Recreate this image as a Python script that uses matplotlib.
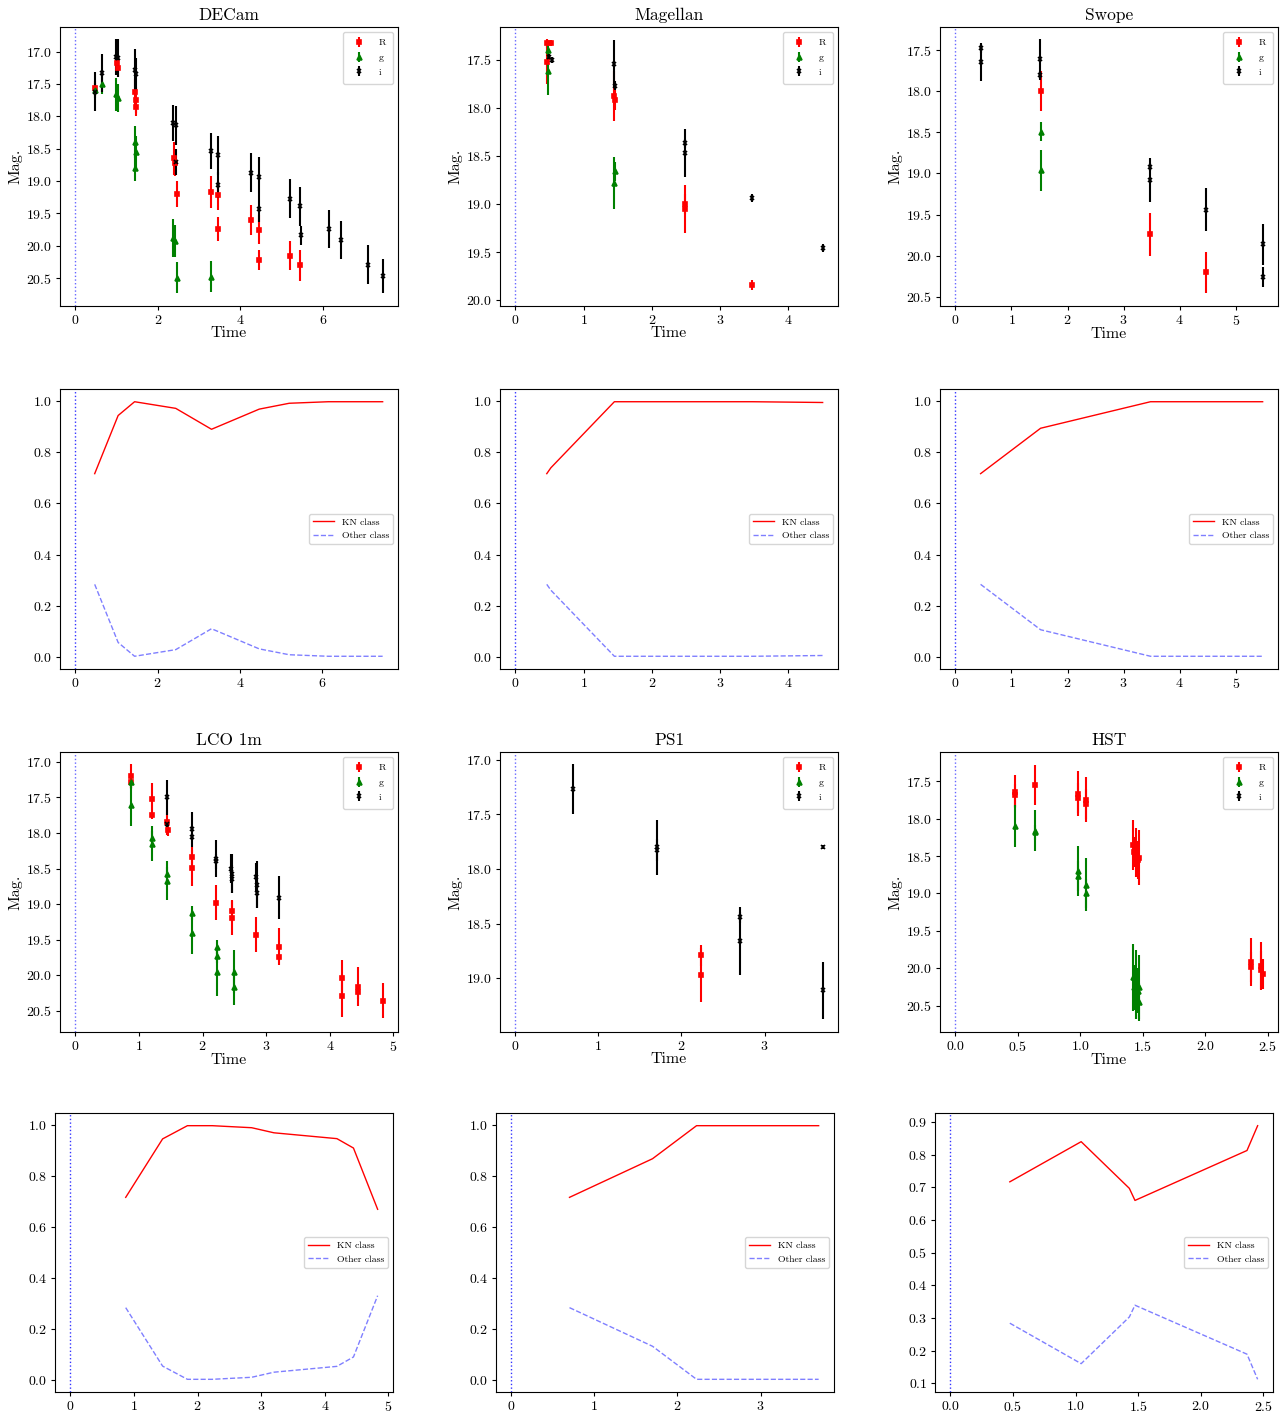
import numpy as np
import matplotlib
matplotlib.use("Agg")
import matplotlib.pyplot as plt
from matplotlib.ticker import MultipleLocator

plt.rcParams["font.family"] = "serif"
plt.rcParams["font.serif"] = ["cmr10"]
plt.rcParams["mathtext.fontset"] = "cm"
plt.rcParams["axes.formatter.use_mathtext"] = True
plt.rcParams["xtick.major.size"] = 3
plt.rcParams["ytick.major.size"] = 3
plt.rcParams["xtick.major.pad"] = 2.5
plt.rcParams["ytick.major.pad"] = 2.5

# light curves: (time, mag, err) per band
decam_R = [(0.47, 17.57, 0.12), (1.00, 17.18, 0.15), (1.04, 17.25, 0.15),
           (1.45, 17.62, 0.20), (1.46, 17.75, 0.20), (1.47, 17.85, 0.15),
           (2.38, 18.65, 0.25), (2.42, 18.72, 0.20), (2.46, 19.20, 0.20),
           (3.30, 19.17, 0.25), (3.46, 19.22, 0.22), (3.46, 19.74, 0.18),
           (4.27, 19.60, 0.23), (4.46, 19.75, 0.22), (4.46, 20.22, 0.15),
           (5.20, 20.15, 0.22), (5.44, 20.30, 0.24)]
decam_g = [(0.47, 17.60, 0.12), (0.65, 17.50, 0.15), (0.98, 17.66, 0.25),
           (1.04, 17.72, 0.22), (1.44, 18.40, 0.25), (1.46, 18.55, 0.25),
           (1.45, 18.80, 0.20), (2.37, 19.88, 0.30), (2.42, 19.93, 0.25),
           (2.46, 20.49, 0.24), (3.30, 20.48, 0.24)]
decam_i = [(0.47, 17.62, 0.30), (0.65, 17.33, 0.30), (0.98, 17.08, 0.28),
           (1.04, 17.10, 0.30), (1.45, 17.28, 0.32), (1.46, 17.35, 0.25),
           (2.37, 18.10, 0.28), (2.44, 18.14, 0.30), (2.45, 18.70, 0.20),
           (3.30, 18.54, 0.28), (3.45, 18.60, 0.30), (3.46, 19.06, 0.20),
           (4.27, 18.87, 0.30), (4.46, 18.93, 0.30), (4.46, 19.43, 0.20),
           (5.20, 19.27, 0.30), (5.45, 19.39, 0.30), (5.46, 19.84, 0.15),
           (6.15, 19.74, 0.30), (6.45, 19.91, 0.30), (7.10, 20.29, 0.30),
           (7.45, 20.47, 0.26)]

magellan_R = [(0.47, 17.52, 0.23), (0.47, 17.33, 0.05), (0.52, 17.33, 0.03),
              (1.45, 17.88, 0.26), (1.46, 17.92, 0.10), (2.48, 19.05, 0.25),
              (2.49, 19.00, 0.10), (3.47, 19.84, 0.05)]
magellan_g = [(0.48, 17.62, 0.25), (0.48, 17.40, 0.05), (1.45, 18.78, 0.27),
              (1.46, 18.66, 0.10)]
magellan_i = [(0.49, 17.47, 0.03), (0.53, 17.50, 0.03), (1.45, 17.54, 0.24),
              (1.46, 17.77, 0.05), (2.48, 18.47, 0.25), (2.48, 18.37, 0.05),
              (3.47, 18.94, 0.04), (4.50, 19.46, 0.04)]

swope_R = [(1.52, 18.00, 0.24), (3.48, 19.74, 0.26), (4.47, 20.20, 0.25)]
swope_g = [(1.52, 18.49, 0.12), (1.52, 18.96, 0.25)]
swope_i = [(0.45, 17.48, 0.05), (0.45, 17.65, 0.23), (1.51, 17.61, 0.25),
           (1.51, 17.80, 0.05), (3.48, 18.92, 0.05), (3.48, 19.08, 0.27),
           (4.47, 19.44, 0.26), (5.48, 19.86, 0.25), (5.48, 20.26, 0.12)]

lco_R = [(0.87, 17.20, 0.17), (0.87, 17.28, 0.08), (1.21, 17.52, 0.23),
         (1.21, 17.75, 0.05), (1.44, 17.85, 0.18), (1.45, 17.96, 0.08),
         (1.83, 18.34, 0.15), (1.83, 18.49, 0.25), (2.21, 18.98, 0.25),
         (2.46, 19.10, 0.15), (2.46, 19.19, 0.25), (2.84, 19.43, 0.25),
         (3.20, 19.60, 0.26), (3.20, 19.75, 0.05), (4.19, 20.04, 0.25),
         (4.19, 20.29, 0.30), (4.45, 20.16, 0.28), (4.45, 20.24, 0.10),
         (4.83, 20.36, 0.25)]
lco_g = [(0.87, 17.28, 0.10), (0.87, 17.60, 0.30), (1.21, 18.07, 0.10),
         (1.21, 18.15, 0.25), (1.44, 18.58, 0.10), (1.44, 18.67, 0.27),
         (1.83, 19.13, 0.10), (1.83, 19.40, 0.30), (2.22, 19.60, 0.10),
         (2.22, 19.73, 0.10), (2.22, 19.95, 0.35), (2.49, 19.95, 0.30),
         (2.49, 20.17, 0.25)]
lco_i = [(1.44, 17.50, 0.25), (1.44, 17.87, 0.05), (1.83, 17.95, 0.25),
         (1.83, 18.05, 0.05), (2.21, 18.36, 0.26), (2.21, 18.40, 0.10),
         (2.45, 18.50, 0.20), (2.46, 18.57, 0.28), (2.47, 18.65, 0.20),
         (2.84, 18.62, 0.20), (2.85, 18.73, 0.33), (2.86, 18.85, 0.20),
         (3.20, 18.91, 0.30)]

ps1_R = [(2.23, 18.97, 0.25), (2.23, 18.79, 0.10)]
ps1_g = []
ps1_i = [(0.70, 17.27, 0.23), (1.70, 17.80, 0.25), (1.70, 17.83, 0.10),
         (2.70, 18.44, 0.05), (2.70, 18.66, 0.31), (3.70, 17.80, 0.02),
         (3.70, 19.11, 0.26)]

hst_R = [(0.475, 17.64, 0.22), (0.475, 17.69, 0.15), (0.64, 17.55, 0.27),
         (0.98, 17.67, 0.30), (0.98, 17.72, 0.20), (1.045, 17.75, 0.30),
         (1.045, 17.80, 0.20), (1.42, 18.35, 0.33), (1.43, 18.45, 0.20),
         (1.45, 18.45, 0.33), (1.46, 18.55, 0.25), (1.47, 18.52, 0.37),
         (2.37, 19.92, 0.32), (2.37, 19.98, 0.20), (2.45, 19.97, 0.32),
         (2.45, 20.02, 0.25), (2.46, 20.07, 0.20)]
hst_g = [(0.475, 18.10, 0.28), (0.64, 18.16, 0.27), (0.64, 18.18, 0.10),
         (0.98, 18.70, 0.33), (0.98, 18.76, 0.20), (1.045, 18.88, 0.36),
         (1.045, 19.00, 0.20), (1.42, 20.12, 0.45), (1.43, 20.25, 0.30),
         (1.45, 20.22, 0.46), (1.46, 20.30, 0.30), (1.47, 20.25, 0.43),
         (1.47, 20.45, 0.25)]
hst_i = []

# classifier output vs time
decam_t = [0.47, 1.04, 1.44, 2.44, 3.31, 4.47, 5.20, 6.15, 7.47]
decam_kn = [0.717, 0.945, 0.999, 0.973, 0.891, 0.970, 0.993, 0.999, 0.999]
decam_other = [0.283, 0.055, 0.001, 0.027, 0.109, 0.030, 0.007, 0.001, 0.001]

magellan_t = [0.46, 0.52, 1.45, 2.48, 3.47, 4.50]
magellan_kn = [0.717, 0.740, 0.999, 0.999, 0.999, 0.996]
magellan_other = [0.283, 0.260, 0.001, 0.001, 0.001, 0.004]

swope_t = [0.45, 1.52, 3.48, 4.47, 5.48]
swope_kn = [0.717, 0.895, 0.999, 0.999, 0.999]
swope_other = [0.283, 0.105, 0.001, 0.001, 0.001]

lco_t = [0.87, 1.45, 1.84, 2.23, 2.46, 2.85, 3.20, 4.19, 4.45, 4.83]
lco_kn = [0.717, 0.947, 0.999, 0.999, 0.996, 0.991, 0.971, 0.948, 0.911, 0.670]
lco_other = [0.283, 0.053, 0.001, 0.001, 0.004, 0.009, 0.029, 0.052, 0.089, 0.330]

ps1_t = [0.70, 1.70, 2.23, 2.70, 3.70]
ps1_kn = [0.717, 0.869, 0.999, 0.999, 0.999]
ps1_other = [0.283, 0.131, 0.001, 0.001, 0.001]

hst_t = [0.475, 1.045, 1.43, 1.475, 2.37, 2.455]
hst_kn = [0.717, 0.840, 0.697, 0.660, 0.813, 0.889]
hst_other = [0.284, 0.160, 0.303, 0.339, 0.189, 0.112]

names = ["DECam", "Magellan", "Swope", "LCO 1m", "PS1", "HST"]
lightcurves = [(decam_R, decam_g, decam_i), (magellan_R, magellan_g, magellan_i),
               (swope_R, swope_g, swope_i), (lco_R, lco_g, lco_i),
               (ps1_R, ps1_g, ps1_i), (hst_R, hst_g, hst_i)]
probs = [(decam_t, decam_kn, decam_other), (magellan_t, magellan_kn, magellan_other),
         (swope_t, swope_kn, swope_other), (lco_t, lco_kn, lco_other),
         (ps1_t, ps1_kn, ps1_other), (hst_t, hst_kn, hst_other)]
mag_lims = [(20.93, 16.62), (20.06, 17.16), (20.61, 17.22),
            (20.80, 16.86), (19.49, 16.93), (20.85, 17.11)]
time_steps = [2, 1, 1, 1, 1, 0.5]
prob_steps = [0.2, 0.2, 0.2, 0.2, 0.2, 0.1]

bands = ["R", "g", "i"]
band_colors = ["red", "green", "black"]
band_markers = ["s", "^", "x"]

W, H = 1281, 1414
fig = plt.figure(figsize=(W / 100, H / 100), dpi=100)


def px_axes(left, top, right, bottom):
    return fig.add_axes([left / W, 1 - bottom / H, (right - left) / W, (bottom - top) / H])


cols = [60, 500, 940]
cols_last = [55, 496, 935]
lc_rows = [(27, 306), (752, 1032)]
pr_rows = [(389, 669), (1113, 1392)]

for k, name in enumerate(names):
    r, c = divmod(k, 3)

    # light curve
    top, bot = lc_rows[r]
    ax = px_axes(cols[c], top, cols[c] + 338, bot)
    ax.axvline(0, color="blue", ls=":", lw=1, alpha=0.6)
    for band, col, mk, pts in zip(bands, band_colors, band_markers, lightcurves[k]):
        arr = np.array(pts).reshape(-1, 3)
        ax.errorbar(arr[:, 0], arr[:, 1], yerr=arr[:, 2], fmt=mk, color=col,
                    ms=3.5, mew=1.2, elinewidth=1.5, label=band)
    ax.set_ylim(*mag_lims[k])
    ax.xaxis.set_major_locator(MultipleLocator(time_steps[k]))
    ax.yaxis.set_major_locator(MultipleLocator(0.5))
    ax.set_title(name, fontsize=12.5, pad=5)
    ax.set_xlabel("Time", fontsize=11.5, labelpad=0)
    ax.set_ylabel("Mag.", fontsize=11.5, labelpad=3)
    ax.tick_params(labelsize=10)
    ax.legend(loc="upper right", fontsize=7, handlelength=1.8, borderpad=0.7,
              labelspacing=0.6, handletextpad=1.2)

    # class probability
    top, bot = pr_rows[r]
    left = cols[c] if r == 0 else cols_last[c]
    ax2 = px_axes(left, top, left + 338, bot)
    ax2.axvline(0, color="blue", ls=":", lw=1, alpha=0.8)
    t, kn, other = probs[k]
    ax2.plot(t, kn, color="red", lw=1, label="KN class")
    ax2.plot(t, other, color="blue", ls="--", lw=1, alpha=0.5, label="Other class")
    ax2.xaxis.set_major_locator(MultipleLocator(time_steps[k]))
    ax2.yaxis.set_major_locator(MultipleLocator(prob_steps[k]))
    ax2.tick_params(labelsize=10)
    ax2.legend(loc="center right", fontsize=7, handlelength=2.2)

fig.savefig("out.png", dpi=100)
